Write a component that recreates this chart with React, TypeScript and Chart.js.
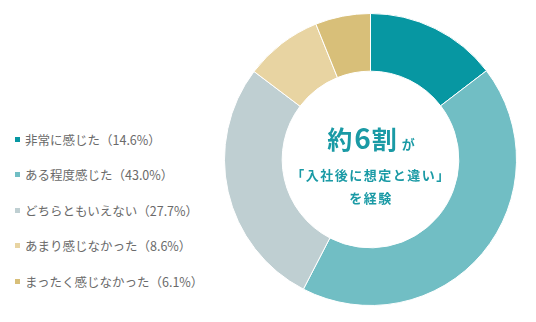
import React, { useEffect, useRef } from "react";
import { Chart, registerables } from "chart.js";

Chart.register(...registerables);

const categories = [
  "非常に感じた",
  "ある程度感じた",
  "どちらともいえない",
  "あまり感じなかった",
  "まったく感じなかった",
];
const values = [14.6, 43.0, 27.7, 8.6, 6.1];
const colors = ["#0797A2", "#71BEC4", "#BFCFD2", "#E8D4A2", "#D8BF79"];
const centerMain = "約6割";
const centerSuffix = "が";
const centerLine2 = "「入社後に想定と違い」";
const centerLine3 = "を経験";

const FONT = "'Noto Sans CJK JP', 'Noto Sans', sans-serif";
const TEAL = "#1A9AA5";

export default function App() {
  const ref = useRef<HTMLCanvasElement | null>(null);

  useEffect(() => {
    if (!ref.current) return;
    const chart = new Chart(ref.current, {
      type: "doughnut",
      data: {
        labels: categories,
        datasets: [
          {
            data: values,
            backgroundColor: colors,
            borderColor: "#ffffff",
            borderWidth: 1,
            hoverOffset: 0,
            offset: 0,
          },
        ],
      },
      options: {
        responsive: false,
        animation: false,
        cutout: "60.5%",
        layout: { padding: 0 },
        plugins: {
          legend: { display: false },
          tooltip: { enabled: false },
        },
      },
    });
    return () => chart.destroy();
  }, []);

  const mainParts = centerMain.split(/(\d+)/).filter((s) => s.length > 0);

  return (
    <div
      style={{
        position: "fixed",
        left: 0,
        top: 0,
        width: 536,
        height: 322,
        background: "#ffffff",
        fontFamily: FONT,
        overflow: "hidden",
      }}
    >
      {categories.map((c, i) => (
        <div
          key={c}
          style={{
            position: "absolute",
            left: 15,
            top: 139 + i * 35.5 - 9,
            height: 18,
            display: "flex",
            alignItems: "center",
            fontSize: 12.5,
            color: "#6a6a6a",
            whiteSpace: "nowrap",
          }}
        >
          <span
            style={{
              display: "inline-block",
              width: 5,
              height: 5,
              background: colors[i],
              marginRight: 5,
            }}
          />
          <span>{`${c}（${values[i].toFixed(1)}%）`}</span>
        </div>
      ))}
      <canvas
        ref={ref}
        width={293}
        height={293}
        style={{ position: "absolute", left: 224, top: 13, width: 293, height: 293 }}
      />
      <div
        style={{
          position: "absolute",
          left: 280,
          width: 182,
          top: 121,
          height: 32,
          lineHeight: "32px",
          textAlign: "center",
          color: TEAL,
          fontWeight: 700,
          whiteSpace: "nowrap",
        }}
      >
        {mainParts.map((p, i) =>
          /\d/.test(p) ? (
            <span key={i} style={{ fontSize: 28, margin: "0 1px 0 2px" }}>
              {p}
            </span>
          ) : (
            <span key={i} style={{ fontSize: 25 }}>
              {p}
            </span>
          )
        )}
        <span style={{ fontSize: 13, marginLeft: 5 }}>{centerSuffix}</span>
      </div>
      <div
        style={{
          position: "absolute",
          left: 280,
          width: 182,
          top: 165,
          height: 20,
          lineHeight: "20px",
          textAlign: "center",
          color: TEAL,
          fontWeight: 700,
          fontSize: 13,
          letterSpacing: 1.5,
          whiteSpace: "nowrap",
        }}
      >
        {centerLine2}
      </div>
      <div
        style={{
          position: "absolute",
          left: 280,
          width: 182,
          top: 188,
          height: 20,
          lineHeight: "20px",
          textAlign: "center",
          color: TEAL,
          fontWeight: 700,
          fontSize: 13,
          letterSpacing: 1.5,
          whiteSpace: "nowrap",
        }}
      >
        {centerLine3}
      </div>
    </div>
  );
}
